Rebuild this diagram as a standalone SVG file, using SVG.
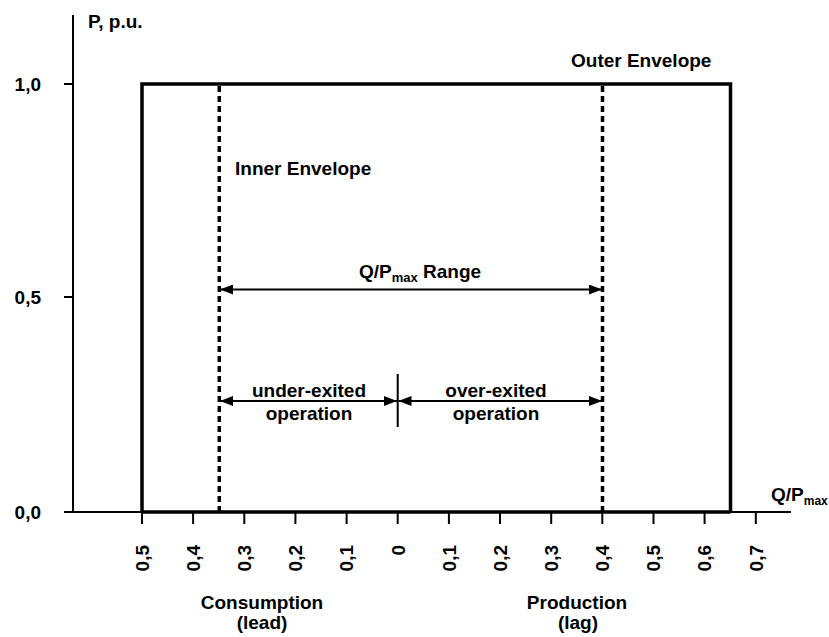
<svg xmlns="http://www.w3.org/2000/svg" width="829" height="637" viewBox="0 0 829 637">
<style>
text{font-family:"Liberation Sans",Arial,sans-serif;font-weight:bold;font-size:19px;fill:#000}
.ax{stroke:#000;stroke-width:2;fill:none}
.outer{stroke:#000;stroke-width:3.5;fill:none}
.dash{stroke:#000;stroke-width:3.5;stroke-dasharray:6,4;fill:none}
.arr{stroke:#000;stroke-width:2;fill:none;marker-start:url(#ah);marker-end:url(#ah)}
.sub{font-size:13px}
.sub2{font-size:12px}
.mid{text-anchor:middle}
.end{text-anchor:end}
</style>
<defs>
<marker id="ah" viewBox="0 0 13 10" refX="13" refY="5" markerWidth="13" markerHeight="10" markerUnits="userSpaceOnUse" orient="auto-start-reverse">
<path d="M0,0 L13,5 L0,10 Z" fill="#000"/>
</marker>
</defs>
<g id="axes">
<line class="ax" x1="73" y1="15" x2="73" y2="512"/>
<line class="ax" x1="64" y1="512" x2="791" y2="512"/>
<line class="ax" x1="64" y1="84" x2="73" y2="84"/>
<line class="ax" x1="64" y1="297" x2="73" y2="297"/>
<g class="ax">
<line x1="142" y1="512" x2="142" y2="524"/>
<line x1="193.1" y1="512" x2="193.1" y2="524"/>
<line x1="244.3" y1="512" x2="244.3" y2="524"/>
<line x1="295.4" y1="512" x2="295.4" y2="524"/>
<line x1="346.6" y1="512" x2="346.6" y2="524"/>
<line x1="397.7" y1="512" x2="397.7" y2="524"/>
<line x1="448.9" y1="512" x2="448.9" y2="524"/>
<line x1="500" y1="512" x2="500" y2="524"/>
<line x1="551.2" y1="512" x2="551.2" y2="524"/>
<line x1="602.3" y1="512" x2="602.3" y2="524"/>
<line x1="653.5" y1="512" x2="653.5" y2="524"/>
<line x1="704.6" y1="512" x2="704.6" y2="524"/>
<line x1="755.8" y1="512" x2="755.8" y2="524"/>
</g>
<text x="88" y="28">P, p.u.</text>
<text class="end" x="41" y="90.5">1,0</text>
<text class="end" x="41" y="303.5">0,5</text>
<text class="end" x="41" y="518.5">0,0</text>
<text x="771" y="501">Q/P<tspan class="sub2" dy="4">max</tspan></text>
<g class="end">
<text transform="translate(148.8,545) rotate(-90)">0,5</text>
<text transform="translate(199.9,545) rotate(-90)">0,4</text>
<text transform="translate(251.1,545) rotate(-90)">0,3</text>
<text transform="translate(302.2,545) rotate(-90)">0,2</text>
<text transform="translate(353.4,545) rotate(-90)">0,1</text>
<text transform="translate(404.5,545) rotate(-90)">0</text>
<text transform="translate(455.7,545) rotate(-90)">0,1</text>
<text transform="translate(506.8,545) rotate(-90)">0,2</text>
<text transform="translate(558,545) rotate(-90)">0,3</text>
<text transform="translate(609.1,545) rotate(-90)">0,4</text>
<text transform="translate(660.3,545) rotate(-90)">0,5</text>
<text transform="translate(711.4,545) rotate(-90)">0,6</text>
<text transform="translate(762.6,545) rotate(-90)">0,7</text>
</g>
<text class="mid" x="262" y="609">Consumption</text>
<text class="mid" x="262" y="629">(lead)</text>
<text class="mid" x="577" y="609">Production</text>
<text class="mid" x="578" y="629">(lag)</text>
</g>
<g id="outer-envelope">
<polyline class="outer" points="142,512 142,84 730.5,84 730.5,512"/>
<line class="outer" x1="142" y1="512" x2="730.5" y2="512"/>
<text x="571" y="67">Outer Envelope</text>
</g>
<g id="inner-envelope">
<line class="dash" x1="219.3" y1="86" x2="219.3" y2="512"/>
<line class="dash" x1="602.5" y1="86" x2="602.5" y2="512"/>
<text x="235" y="175">Inner Envelope</text>
</g>
<g id="connectors">
<line class="arr" x1="220" y1="289.5" x2="602" y2="289.5"/>
<line class="arr" x1="220" y1="401" x2="397" y2="401"/>
<line class="arr" x1="398.5" y1="401" x2="602" y2="401"/>
<line class="ax" x1="397.7" y1="374" x2="397.7" y2="427"/>
</g>
<g id="labels">
<text class="mid" x="420" y="278">Q/P<tspan class="sub" dy="4">max</tspan><tspan dy="-4"> Range</tspan></text>
<text class="mid" x="309" y="397">under-exited</text>
<text class="mid" x="309" y="420">operation</text>
<text class="mid" x="496" y="397">over-exited</text>
<text class="mid" x="496" y="420">operation</text>
</g>
</svg>
